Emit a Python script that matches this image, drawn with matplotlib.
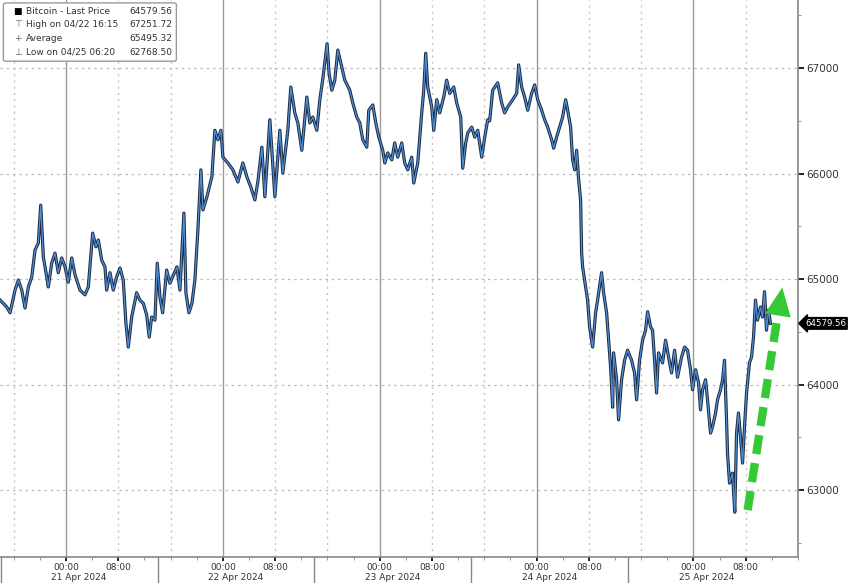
import matplotlib
matplotlib.use("Agg")
import matplotlib.pyplot as plt
import matplotlib.dates as mdates
import matplotlib.transforms as mtransforms
from matplotlib.patches import FancyBboxPatch
import pandas as pd

# Data: hours since 21 Apr 2024 00:00, and Bitcoin last price
hours = [
    -10.09, -9.07, -8.56, -7.80, -7.29, -6.77, -6.27, -5.76, -5.24, -4.74,
    -4.24, -3.87, -3.47, -2.95, -2.71, -2.19, -1.68, -1.18, -0.66, -0.15,
    0.35, 0.87, 1.38, 2.14, 2.91, 3.41, 4.08, 4.59, 4.94, 5.46,
    5.96, 6.22, 6.73, 7.23, 7.75, 8.26, 8.76, 9.17, 9.53, 10.05,
    10.81, 11.31, 11.82, 12.34, 12.74, 13.10, 13.61, 13.96, 14.37, 14.79,
    15.40, 15.90, 16.97, 17.43, 18.04, 18.35, 18.81, 19.27, 19.72, 20.18,
    20.64, 20.95, 21.56, 22.32, 22.78, 23.24, 23.70, 24.01, 24.77, 25.53,
    26.30, 27.06, 27.67, 28.29, 28.90, 29.36, 29.97, 30.43, 31.19, 31.96,
    32.72, 33.18, 33.94, 34.40, 35.01, 35.47, 36.08, 36.85, 37.31, 37.77,
    38.38, 38.84, 39.30, 39.95, 40.25, 40.67, 41.13, 41.59, 42.20, 42.66,
    43.42, 43.88, 44.49, 44.95, 45.41, 46.02, 46.33, 46.94, 47.40, 47.86,
    48.47, 48.78, 49.23, 49.85, 50.30, 50.76, 51.37, 51.83, 52.29, 52.90,
    53.21, 53.82, 54.43, 54.74, 55.04, 55.35, 55.96, 56.27, 56.73, 57.18,
    57.80, 58.25, 58.71, 59.33, 59.78, 60.40, 60.70, 61.16, 61.47, 62.08,
    62.54, 63.00, 63.61, 64.07, 64.53, 64.83, 65.29, 66.05, 66.66, 67.12,
    67.58, 68.35, 68.96, 69.26, 69.72, 70.18, 70.64, 71.25, 71.71, 72.17,
    72.78, 73.24, 73.70, 74.31, 74.62, 75.07, 75.53, 75.99, 76.45, 76.76,
    77.21, 77.52, 77.83, 78.13, 78.44, 78.74, 78.90, 79.05, 79.51, 79.81,
    80.12, 80.58, 81.04, 81.34, 81.95, 82.26, 82.72, 83.02, 83.33, 83.64,
    83.79, 84.25, 84.55, 85.01, 85.47, 85.93, 86.54, 87.00, 87.31, 87.76,
    88.22, 88.68, 88.99, 89.45, 89.75, 90.06, 90.36, 90.67, 91.28, 91.74,
    92.20, 92.66, 93.12, 93.57, 94.19, 94.65, 95.10, 95.56, 95.87, 96.33,
    96.79, 97.09, 97.40, 97.86, 98.16, 98.62, 98.93, 99.39, 99.69, 100.15,
    100.46, 100.76, 101.07, 101.22, 101.53, 101.98, 102.33, 102.60, 102.90, 103.21,
    103.52, 103.82, 104.13, 104.58, 104.89, 105.20, 105.50, 105.81, 106.27, 106.57,
    106.88, 107.18, 107.49, 107.79,
]
prices = [
    64800, 64735, 64680, 64895, 64990, 64895, 64725, 64925, 65020, 65275,
    65340, 65700, 65210, 65020, 64925, 65150, 65245, 65060, 65200, 65115,
    64970, 65200, 65040, 64895, 64850, 64925, 65435, 65305, 65370, 65180,
    65115, 64895, 65060, 64895, 65020, 65105, 64990, 64580, 64355, 64640,
    64870, 64800, 64770, 64660, 64450, 64640, 64610, 65150, 64830, 64680,
    65085, 64960, 65115, 64895, 65625, 64870, 64680, 64770, 64990, 65465,
    66035, 65655, 65780, 65970, 66410, 66320, 66410, 66155, 66100, 66035,
    65920, 66100, 65970, 65870, 65750, 65925, 66250, 65780, 66510, 65780,
    66410, 66005, 66410, 66820, 66575, 66480, 66220, 66725, 66480, 66535,
    66410, 66700, 66900, 67230, 66950, 66790, 66885, 67170, 67010, 66885,
    66790, 66670, 66535, 66480, 66320, 66250, 66600, 66650, 66480, 66345,
    66220, 66100, 66195, 66130, 66290, 66155, 66290, 66100, 66035, 66155,
    65910, 66100, 66575, 66790, 67140, 66820, 66630, 66410, 66700, 66575,
    66725, 66885, 66760, 66820, 66670, 66535, 66050, 66290, 66385, 66440,
    66345, 66410, 66155, 66345, 66510, 66500, 66790, 66860, 66670, 66575,
    66630, 66700, 66760, 67030, 66820, 66725, 66600, 66760, 66840, 66700,
    66600, 66510, 66440, 66320, 66240, 66345, 66440, 66535, 66700, 66600,
    66440, 66130, 66035, 66220, 65940, 65750, 65245, 65115, 64925, 64800,
    64545, 64355, 64680, 64800, 65060, 64870, 64680, 64420, 64165, 63785,
    64300, 64045, 63665, 64045, 64230, 64325, 64230, 64110, 63855, 64230,
    64420, 64515, 64690, 64545, 64515, 64230, 63920, 64300, 64205, 64420,
    64260, 64110, 64325, 64070, 64260, 64355, 64325, 64140, 63950, 64140,
    64015, 63760, 63950, 64045, 63855, 63540, 63600, 63730, 63855, 63950,
    64045, 64230, 63665, 63350, 63065, 63160, 62790, 63540, 63730, 63500,
    63255, 63600, 63920, 64205, 64260, 64450, 64800, 64610, 64735, 64640,
    64880, 64515, 64705, 64579.56,
]

days = ["21 Apr 2024", "22 Apr 2024", "23 Apr 2024", "24 Apr 2024", "25 Apr 2024"]
legend_rows = [
    ("Bitcoin - Last Price", "64579.56"),
    ("High on 04/22 16:15", "67251.72"),
    ("Average", "65495.32"),
    ("Low on 04/25 06:20", "62768.50"),
]
last_price = 64579.56

start = pd.Timestamp("2024-04-21 00:00")
times = start + pd.to_timedelta(hours, unit="h")

fig = plt.figure(figsize=(8.48, 5.83), dpi=100)
ax = fig.add_axes([0.0, 0.0446, 0.941, 0.9554])

# line: dark outline under blue
ax.plot(times, prices, color="#1b2940", linewidth=2.3, zorder=3)
ax.plot(times, prices, color="#4f8fd6", linewidth=0.9, zorder=4)

ax.set_xlim(start - pd.Timedelta(hours=10.1), start + pd.Timedelta(hours=112))
ax.set_ylim(62365, 67645)

# y axis on the right
ax.yaxis.tick_right()
ax.set_yticks([63000, 64000, 65000, 66000, 67000])
ax.set_yticks([62500, 63500, 64500, 65500, 66500, 67500], minor=True)
ax.tick_params(axis="y", which="major", length=4, width=1.2, color="black",
               labelsize=7.5, labelcolor="#333333", pad=2)
ax.tick_params(axis="y", which="minor", length=2, width=0.6, color="#888888")
ax.grid(axis="y", which="major", color="#bbbbbb", linestyle=(0, (2, 3)), linewidth=0.9)

# x axis: 8-hour grid, solid at midnight
day_starts = pd.date_range("2024-04-21", "2024-04-25", freq="D")
for d in day_starts:
    ax.axvline(d, color="#9a9a9a", linewidth=1.0, zorder=1)
    for h in (8, 16):
        ax.axvline(d + pd.Timedelta(hours=h), color="#c4c4c4",
                   linestyle=(0, (1.5, 3)), linewidth=1.0, zorder=1)
ax.axvline(start - pd.Timedelta(hours=8), color="#c4c4c4",
           linestyle=(0, (1.5, 3)), linewidth=1.0, zorder=1)

major = []
labels = []
for d in day_starts:
    major += [d, d + pd.Timedelta(hours=8)]
    labels += ["00:00", "08:00"]
ax.set_xticks(major)
ax.set_xticklabels(labels)
ax.xaxis.set_minor_locator(mdates.HourLocator(byhour=range(0, 24, 4)))
ax.tick_params(axis="x", which="major", length=3, width=1.2, color="black",
               labelsize=6.5, labelcolor="#333333", pad=1)
ax.tick_params(axis="x", which="minor", length=2, width=0.6, color="#888888")

for side in ("top", "left"):
    ax.spines[side].set_visible(False)
ax.spines["right"].set_color("#888888")
ax.spines["right"].set_linewidth(1.2)
ax.spines["bottom"].set_color("#888888")
ax.spines["bottom"].set_linewidth(1.2)

# date row under tick labels
trans = mtransforms.blended_transform_factory(ax.transData, ax.transAxes)
for i, d in enumerate(day_starts):
    ax.text(d + pd.Timedelta(hours=2), -0.036, days[i], transform=trans,
            ha="center", va="center", fontsize=6.5, color="#333333")
    sep = d - pd.Timedelta(hours=10)
    ax.plot([sep, sep], [0, -0.05], transform=trans, color="#888888",
            linewidth=1.0, clip_on=False)

# last price tag
ax.annotate(f"{last_price:.2f}", xy=(1.0, last_price),
            xycoords=mtransforms.blended_transform_factory(ax.transAxes, ax.transData),
            xytext=(5, 0), textcoords="offset points", ha="left", va="center",
            fontsize=6.2, color="white", annotation_clip=False,
            bbox=dict(boxstyle="larrow,pad=0.15", fc="black", ec="black"))

# green dashed arrow
arrow_tail = (start + pd.Timedelta(hours=104.3), 62810)
arrow_mid = (start + pd.Timedelta(hours=108.9), 64660)
arrow_tip = (start + pd.Timedelta(hours=109.6), 64920)
ax.plot([arrow_tail[0], arrow_mid[0]], [arrow_tail[1], arrow_mid[1]],
        color="#35c935", linewidth=6, linestyle=(0, (2.3, 1.1)),
        solid_capstyle="butt", zorder=6)
ax.annotate("", xy=arrow_tip, xytext=arrow_tail,
            arrowprops=dict(arrowstyle="-|>,head_length=1.2,head_width=0.55",
                            color="#35c935", linewidth=0, mutation_scale=17,
                            shrinkA=0, shrinkB=0),
            zorder=6)

# legend box
box = FancyBboxPatch((0.007, 0.898), 0.198, 0.094, boxstyle="round,pad=0.003",
                     transform=fig.transFigure, fc="white", ec="#9a9a9a", lw=1.0)
fig.patches.append(box)
icons = ["\u25A0", "\u22A4", "+", "\u22A5"]
for i, (lab, val) in enumerate(legend_rows):
    y = 0.981 - i * 0.0235
    fig.text(0.021, y, icons[i], ha="center", va="center", fontsize=6.5,
             color="black" if i == 0 else "#666666")
    fig.text(0.031, y, lab, ha="left", va="center", fontsize=6.5, color="#333333")
    fig.text(0.203, y, val, ha="right", va="center", fontsize=6.5, color="#333333")

fig.savefig("out.png", dpi=100)
